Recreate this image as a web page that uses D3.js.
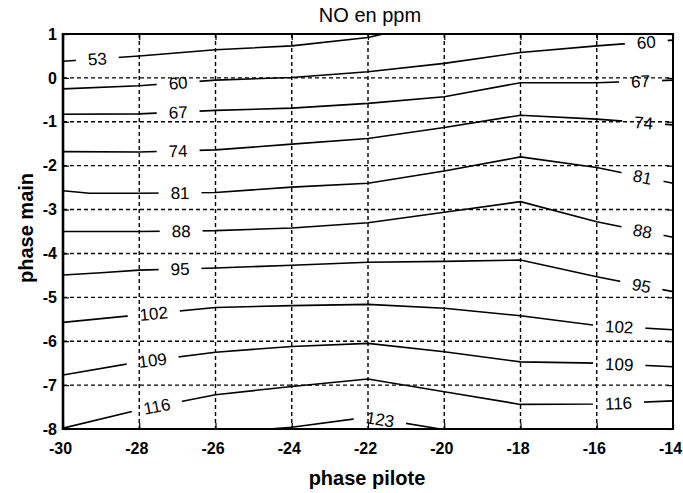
<!DOCTYPE html>
<html>
<head>
<meta charset="utf-8">
<script src="https://cdn.jsdelivr.net/npm/d3@7"></script>
<style>
  body { margin: 0; background: #fff; }
  svg { display: block; font-family: "Liberation Sans", Arial, Helvetica, sans-serif; }
</style>
</head>
<body>
<div id="chart"></div>
<script>
// niveaux des isolignes (NO en ppm)
const levels = [53, 60, 67, 74, 81, 88, 95, 102, 109, 116, 123];

// sommets de chaque isoligne : [phase pilote, phase main]
const contourPts = [
  [[-30, 0.38], [-28, 0.50], [-26, 0.64], [-24, 0.73], [-22, 0.92], [-21.6, 1.0]],
  [[-30, -0.25], [-28, -0.18], [-26, -0.05], [-24, 0.01], [-22, 0.14], [-20, 0.33], [-18, 0.58], [-16, 0.73], [-14, 0.86]],
  [[-30, -0.83], [-28, -0.82], [-26, -0.74], [-24, -0.69], [-22, -0.58], [-20, -0.43], [-18, -0.11], [-16, -0.11], [-14, -0.05]],
  [[-30, -1.68], [-28, -1.69], [-26, -1.64], [-24, -1.51], [-22, -1.38], [-20, -1.13], [-18, -0.85], [-16, -0.94], [-14, -1.07]],
  [[-30, -2.57], [-29.3, -2.63], [-28, -2.63], [-26, -2.61], [-24, -2.49], [-22, -2.40], [-20, -2.12], [-18, -1.80], [-16, -2.04], [-14, -2.40]],
  [[-30, -3.50], [-28, -3.50], [-26, -3.48], [-24, -3.42], [-22, -3.30], [-20, -3.06], [-18, -2.82], [-16, -3.28], [-14, -3.63]],
  [[-30, -4.49], [-29, -4.44], [-28, -4.38], [-26, -4.33], [-24, -4.27], [-22, -4.20], [-20, -4.18], [-18, -4.15], [-16, -4.53], [-14, -4.87]],
  [[-30, -5.57], [-28, -5.40], [-26, -5.23], [-24, -5.19], [-22, -5.16], [-20, -5.25], [-18, -5.42], [-16, -5.64], [-14, -5.74]],
  [[-30, -6.77], [-28, -6.47], [-26, -6.25], [-24, -6.12], [-22, -6.05], [-20, -6.24], [-18, -6.47], [-16, -6.50], [-14, -6.58]],
  [[-30, -7.98], [-28, -7.56], [-26, -7.22], [-24, -7.03], [-22, -6.86], [-20, -7.15], [-18, -7.44], [-16, -7.43], [-14, -7.36]],
  [[-24.6, -8], [-24, -7.96], [-22, -7.73], [-20.1, -8]]
];

// position (phase pilote) des etiquettes sur chaque isoligne
const labelX = [
  [-29.1], [-26.98, -14.70], [-26.98, -14.85], [-26.98, -14.77], [-26.93, -14.8],
  [-26.9, -14.8], [-26.93, -14.83], [-27.62, -15.41], [-27.65, -15.41], [-27.54, -15.43], [-21.68]
];

const xTicks = [-30, -28, -26, -24, -22, -20, -18, -16, -14];
const yTicks = [-8, -7, -6, -5, -4, -3, -2, -1, 0, 1];

const width = 683, height = 493;
const plotLeft = 63, plotRight = 673, plotTop = 34, plotBottom = 429;

const x = d3.scaleLinear().domain([-30, -14]).range([plotLeft, plotRight]);
const y = d3.scaleLinear().domain([-8, 1]).range([plotBottom, plotTop]);

const svg = d3.select("#chart").append("svg")
  .attr("width", width)
  .attr("height", height);

const defs = svg.append("defs");
defs.append("clipPath").attr("id", "plot-clip")
  .append("rect")
  .attr("x", plotLeft).attr("y", plotTop)
  .attr("width", plotRight - plotLeft).attr("height", plotBottom - plotTop);

// grille pointillee
const grid = svg.append("g")
  .attr("stroke", "#000")
  .attr("stroke-width", 1.4)
  .attr("stroke-dasharray", "4,3");
xTicks.slice(1, -1).forEach(t => {
  grid.append("line")
    .attr("x1", x(t)).attr("x2", x(t))
    .attr("y1", plotTop).attr("y2", plotBottom);
});
yTicks.slice(1, -1).forEach(t => {
  grid.append("line")
    .attr("x1", plotLeft).attr("x2", plotRight)
    .attr("y1", y(t)).attr("y2", y(t));
});

// position et angle d'une etiquette sur la polyligne
function placeOnLine(pts, lx) {
  let i = 0;
  while (i < pts.length - 2 && pts[i + 1][0] < lx) i++;
  const a = pts[i], b = pts[i + 1];
  const t = (lx - a[0]) / (b[0] - a[0]);
  const ly = a[1] + t * (b[1] - a[1]);
  const ang = Math.atan2(y(b[1]) - y(a[1]), x(b[0]) - x(a[0])) * 180 / Math.PI;
  return { px: x(lx), py: y(ly), angle: ang };
}

// etiquettes d'abord, pour mesurer leur largeur
const labels = svg.append("g")
  .attr("font-size", "17px")
  .attr("fill", "#000");

const mask = defs.append("mask")
  .attr("id", "label-mask")
  .attr("maskUnits", "userSpaceOnUse")
  .attr("x", 0).attr("y", 0)
  .attr("width", width).attr("height", height);
mask.append("rect")
  .attr("width", width).attr("height", height)
  .attr("fill", "#fff");

levels.forEach((lev, i) => {
  labelX[i].forEach(lx => {
    const p = placeOnLine(contourPts[i], lx);
    const txt = labels.append("text")
      .attr("transform", `translate(${p.px},${p.py}) rotate(${p.angle})`)
      .attr("text-anchor", "middle")
      .attr("dy", "0.36em")
      .text(lev);
    const w = txt.node().getBBox().width + 24;
    mask.append("rect")
      .attr("transform", `translate(${p.px},${p.py}) rotate(${p.angle})`)
      .attr("x", -w / 2).attr("y", -8)
      .attr("width", w).attr("height", 16)
      .attr("fill", "#000");
  });
});

// isolignes, coupees sous les etiquettes
const line = d3.line()
  .x(d => x(d[0]))
  .y(d => y(d[1]));

svg.append("g")
  .attr("clip-path", "url(#plot-clip)")
  .append("g")
  .attr("mask", "url(#label-mask)")
  .selectAll("path")
  .data(contourPts)
  .join("path")
  .attr("d", line)
  .attr("fill", "none")
  .attr("stroke", "#000")
  .attr("stroke-width", 1.6);

// axes
const fmt = d => String(d); // tiret simple comme dans l'original

function styleAxis(g, fontSize) {
  g.selectAll("text")
    .attr("font-size", fontSize)
    .attr("font-weight", "bold")
    .attr("fill", "#000")
    .attr("font-family", null);
  g.selectAll(".tick line").attr("stroke", "#000").attr("stroke-width", 1.2);
  g.select(".domain").remove();
}

svg.append("g")
  .attr("transform", `translate(0,${plotBottom})`)
  .call(d3.axisBottom(x).tickValues(xTicks).tickFormat(fmt).tickSize(-6).tickSizeOuter(0).tickPadding(13.5))
  .call(g => styleAxis(g, "16px"))
  .call(g => g.selectAll("text").attr("dx", "-3"));

svg.append("g")
  .attr("transform", `translate(${plotLeft},0)`)
  .call(d3.axisLeft(y).tickValues(yTicks).tickFormat(fmt).tickSize(-6).tickSizeOuter(0).tickPadding(6))
  .call(g => styleAxis(g, "16px"));

svg.append("g")
  .attr("transform", `translate(0,${plotTop})`)
  .call(d3.axisTop(x).tickValues(xTicks).tickSize(-6).tickSizeOuter(0).tickFormat(""))
  .call(g => styleAxis(g, "16px"));

svg.append("g")
  .attr("transform", `translate(${plotRight},0)`)
  .call(d3.axisRight(y).tickValues(yTicks).tickSize(-6).tickSizeOuter(0).tickFormat(""))
  .call(g => styleAxis(g, "16px"));

// cadre
svg.append("rect")
  .attr("x", plotLeft).attr("y", plotTop)
  .attr("width", plotRight - plotLeft).attr("height", plotBottom - plotTop)
  .attr("fill", "none")
  .attr("stroke", "#000")
  .attr("stroke-width", 2);
svg.append("line")
  .attr("x1", plotLeft).attr("x2", plotLeft)
  .attr("y1", plotTop - 1).attr("y2", plotBottom + 1)
  .attr("stroke", "#000")
  .attr("stroke-width", 2.6);

// titres
svg.append("text")
  .attr("x", 370).attr("y", 22)
  .attr("text-anchor", "middle")
  .attr("font-size", "20px")
  .text("NO en ppm");

svg.append("text")
  .attr("x", 367).attr("y", 485)
  .attr("text-anchor", "middle")
  .attr("font-size", "20px")
  .attr("font-weight", "bold")
  .text("phase pilote");

svg.append("text")
  .attr("transform", "translate(33,228) rotate(-90)")
  .attr("text-anchor", "middle")
  .attr("font-size", "20px")
  .attr("font-weight", "bold")
  .text("phase main");
</script>
</body>
</html>
